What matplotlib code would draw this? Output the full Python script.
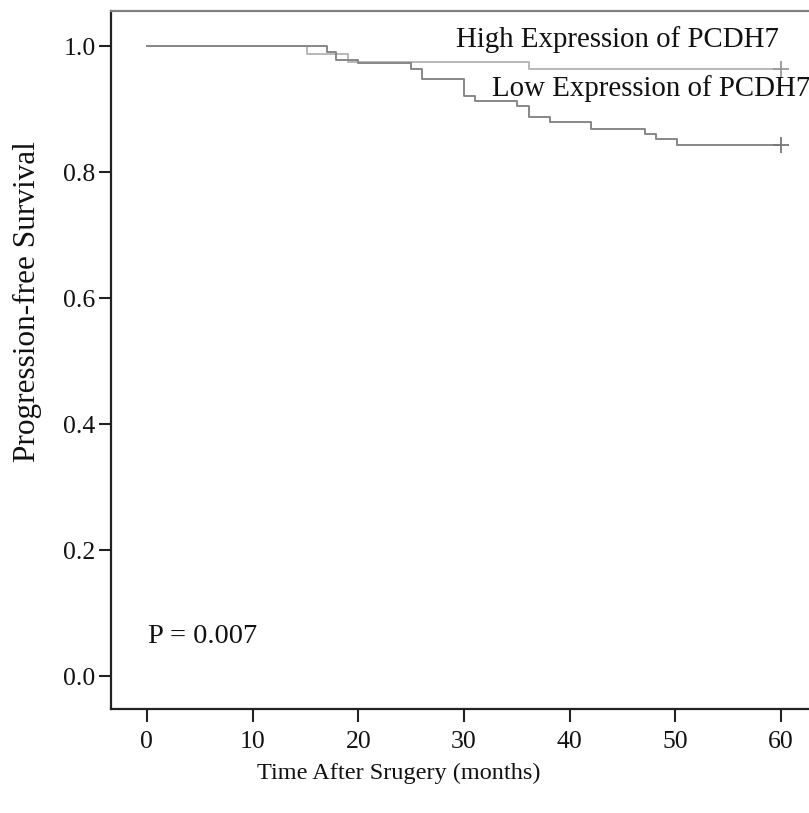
import matplotlib
matplotlib.use("Agg")
import matplotlib.pyplot as plt

# Kaplan-Meier step data (months, survival)
high_times = [0, 15.1, 19.0, 36.1, 60.0]
high_surv = [1.0, 0.987, 0.975, 0.963, 0.963]
low_times = [0, 17.0, 17.9, 20.0, 25.0, 26.0, 30.0, 31.0, 35.0, 36.1, 38.1, 42.0, 47.1, 48.2, 50.1, 60.0]
low_surv = [1.0, 0.991, 0.978, 0.973, 0.964, 0.947, 0.921, 0.913, 0.904, 0.888, 0.879, 0.869, 0.861, 0.852, 0.843, 0.843]
censor_t = 60.0

xticks = [0, 10, 20, 30, 40, 50, 60]
yticks = [0.0, 0.2, 0.4, 0.6, 0.8, 1.0]
ytick_labels = ["0.0", "0.2", "0.4", "0.6", "0.8", "1.0"]

plt.rcParams['font.family'] = ['Liberation Serif', 'DejaVu Serif']

fig = plt.figure(figsize=(8.09, 8.13), dpi=100)
ax = fig.add_axes([0.1372, 0.1279, 0.8628, 0.8586])

high_col = "#b8b8b8"
low_col = "#878787"

ax.step(high_times, high_surv, where='post', color=high_col, lw=1.4)
ax.step(low_times, low_surv, where='post', color=low_col, lw=1.4)
ax.plot([censor_t], [high_surv[-1]], marker='+', ms=11, mew=1.3, color="#999999", ls='none')
ax.plot([censor_t], [low_surv[-1]], marker='+', ms=11, mew=1.3, color="#777777", ls='none')

ax.set_xlim(-3.4, 62.63)
ax.set_ylim(-0.0524, 1.0556)

ax.set_xticks(xticks)
ax.set_xticklabels([str(v) for v in xticks])
ax.set_yticks(yticks)
ax.set_yticklabels(ytick_labels)
ax.tick_params(axis='both', direction='out', length=9, width=1.5, colors="#222222",
               labelsize=18.5, labelcolor="#111111")
ax.tick_params(axis='x', pad=7)
ax.tick_params(axis='y', pad=2)

ax.spines['right'].set_visible(False)
ax.spines['left'].set_linewidth(1.6)
ax.spines['bottom'].set_linewidth(1.6)
ax.spines['left'].set_color("#222222")
ax.spines['bottom'].set_color("#222222")
ax.spines['top'].set_linewidth(1.6)
ax.spines['top'].set_color("#808080")

fig.text(399 / 809, 1 - 773 / 813, "Time After Srugery (months)", fontsize=17.5,
         ha='center', va='center', color="#111111")
fig.text(27 / 809, 1 - 302 / 813, "Progression-free Survival", fontsize=22.5,
         ha='center', va='center', rotation=90, color="#111111")

ax.text(29.2, 1.01, "High Expression of PCDH7", fontsize=20.8, va='center', ha='left', color="#111111")
ax.text(32.6, 0.933, "Low Expression of PCDH7", fontsize=20.8, va='center', ha='left', color="#111111")
ax.text(0.1, 0.062, "P = 0.007", fontsize=20.5, va='center', ha='left', color="#111111")

fig.savefig("out.png", dpi=100)
